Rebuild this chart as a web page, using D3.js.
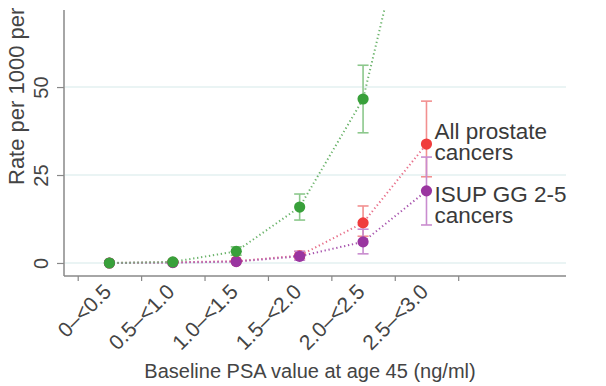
<!DOCTYPE html>
<html>
<head>
<meta charset="utf-8">
<script src="https://cdn.jsdelivr.net/npm/d3@7"></script>
<style>
  body { margin: 0; background: #fff; }
  text { font-family: "Liberation Sans", Arial, sans-serif; fill: #444; }
</style>
</head>
<body>
<div id="chart"></div>
<script>
const categories = ["0\u2013<0.5", "0.5\u2013<1.0", "1.0\u2013<1.5", "1.5\u2013<2.0", "2.0\u2013<2.5", "2.5\u2013<3.0"];

// green series (label cropped out of the picture)
const greenRate = [0, 0.3, 3.3, 15.9, 46.6, 122];
const greenLo   = [0, 0.1, 2.2, 12.2, 37.0, 95];
const greenHi   = [0, 0.6, 4.6, 19.6, 56.2, 150];

const allRate = [0, 0.2, 0.5, 2.1, 11.4, 33.8];
const allLo   = [0, 0.05, 0.2, 1.2, 7.6, 24.5];
const allHi   = [0, 0.5, 1.0, 3.3, 16.2, 46.0];

const isupRate = [0, 0.1, 0.4, 1.9, 6.0, 20.5];
const isupLo   = [0, 0.0, 0.1, 0.8, 2.6, 10.8];
const isupHi   = [0, 0.3, 0.9, 3.3, 9.6, 30.1];

const yTicks = [0, 25, 50];

const width = 606, height = 386;
const m = { left: 64, right: 566, top: 10, bottom: 276 };

const svg = d3.select('#chart').append('svg')
  .attr('width', width)
  .attr('height', height);

// category i sits at i + 0.5, ticks on the boundaries
let x = d3.scaleLinear().domain([-0.216, 7.70]).range([m.left, m.right]);
let y = d3.scaleLinear().domain([-3.7, 71.9]).range([m.bottom, m.top]);

svg.append('defs').append('clipPath').attr('id', 'plot')
  .append('rect').attr('x', m.left).attr('y', m.top).attr('width', m.right - m.left).attr('height', m.bottom - m.top);

// gridlines
svg.append('g').selectAll('line').data(yTicks).join('line')
  .attr('x1', m.left + 1).attr('x2', m.right)
  .attr('y1', d => y(d)).attr('y2', d => y(d))
  .attr('stroke', '#e3f1f1').attr('stroke-width', 1.5);

// y axis
let yAxis = svg.append('g')
  .attr('transform', 'translate(' + m.left + ',0)')
  .call(d3.axisLeft(y).tickValues(yTicks).tickSize(7).tickPadding(0).tickFormat(d3.format('d')));
yAxis.select('.domain').attr('d', 'M0,' + m.top + 'V' + m.bottom).attr('stroke', '#888').attr('stroke-width', 1.5);
yAxis.selectAll('.tick line').attr('stroke', '#888').attr('stroke-width', 1.2);
yAxis.selectAll('.tick text')
  .attr('transform', 'rotate(-90)')
  .attr('x', 0).attr('y', -16).attr('dy', 0)
  .attr('text-anchor', 'middle')
  .style('font-size', '20px').style('fill', '#444');

// x axis
let xAxis = svg.append('g')
  .attr('transform', 'translate(0,' + m.bottom + ')')
  .call(d3.axisBottom(x).tickValues(d3.range(0, 7)).tickSize(5).tickFormat(''));
xAxis.select('.domain').attr('d', 'M' + m.left + ',0H' + m.right).attr('stroke', '#888').attr('stroke-width', 1.5);
xAxis.selectAll('.tick line').attr('stroke', '#888').attr('stroke-width', 1.2);

// rotated category labels
svg.append('g').selectAll('text').data(categories).join('text')
  .attr('transform', (d, i) => 'translate(' + (x(i + 0.5) + 3) + ',' + (m.bottom + 17) + ') rotate(-45)')
  .attr('text-anchor', 'end')
  .style('font-size', '21px')
  .text(d => d);

// axis titles
svg.append('text')
  .attr('x', 310).attr('y', 378)
  .attr('text-anchor', 'middle')
  .style('font-size', '20px')
  .text('Baseline PSA value at age 45 (ng/ml)');

svg.append('text')
  .attr('transform', 'translate(24,185) rotate(-90)')
  .attr('text-anchor', 'start')
  .style('font-size', '22px')
  .text('Rate per 1000 per');

const series = [
  { rate: allRate, lo: allLo, hi: allHi, dot: '#f03c3c', bar: '#f29090', line: '#e8708a' },
  { rate: isupRate, lo: isupLo, hi: isupHi, dot: '#9a35a0', bar: '#c98ccf', line: '#a855ae' },
  { rate: greenRate, lo: greenLo, hi: greenHi, dot: '#38a03a', bar: '#8cc88c', line: '#6db46d' }
];

let plot = svg.append('g').attr('clip-path', 'url(#plot)');

series.forEach(s => {
  let pts = s.rate.map((v, i) => [x(i + 0.5), y(v)]);
  plot.append('path')
    .attr('d', d3.line()(pts))
    .attr('fill', 'none')
    .attr('stroke', s.line)
    .attr('stroke-width', 2)
    .attr('stroke-dasharray', '1.3,2.7');
});

series.forEach(s => {
  let g = plot.append('g');
  s.rate.forEach((v, i) => {
    let cx = x(i + 0.5);
    if (s.hi[i] - s.lo[i] > 0.8) {
      g.append('line').attr('x1', cx).attr('x2', cx).attr('y1', y(s.lo[i])).attr('y2', y(s.hi[i]))
        .attr('stroke', s.bar).attr('stroke-width', 1.6);
      [s.lo[i], s.hi[i]].forEach(e => {
        g.append('line').attr('x1', cx - 5.5).attr('x2', cx + 5.5).attr('y1', y(e)).attr('y2', y(e))
          .attr('stroke', s.bar).attr('stroke-width', 1.6);
      });
    }
    g.append('circle').attr('cx', cx).attr('cy', y(v)).attr('r', 5.6).attr('fill', s.dot);
  });
});

// series labels next to last points, one text per line
const labels = [
  { lines: ['All prostate', 'cancers'], rate: allRate, dy: -5 },
  { lines: ['ISUP GG 2-5', 'cancers'], rate: isupRate, dy: 11 }
];
labels.forEach(l => {
  let last = l.rate.length - 1;
  l.lines.forEach((s, k) => {
    svg.append('text')
      .attr('x', x(last + 0.5) + 8)
      .attr('y', y(l.rate[last]) + l.dy + k * 21)
      .style('font-size', '22.5px')
      .style('fill', '#3a3a3a')
      .text(s);
  });
});
</script>
</body>
</html>
